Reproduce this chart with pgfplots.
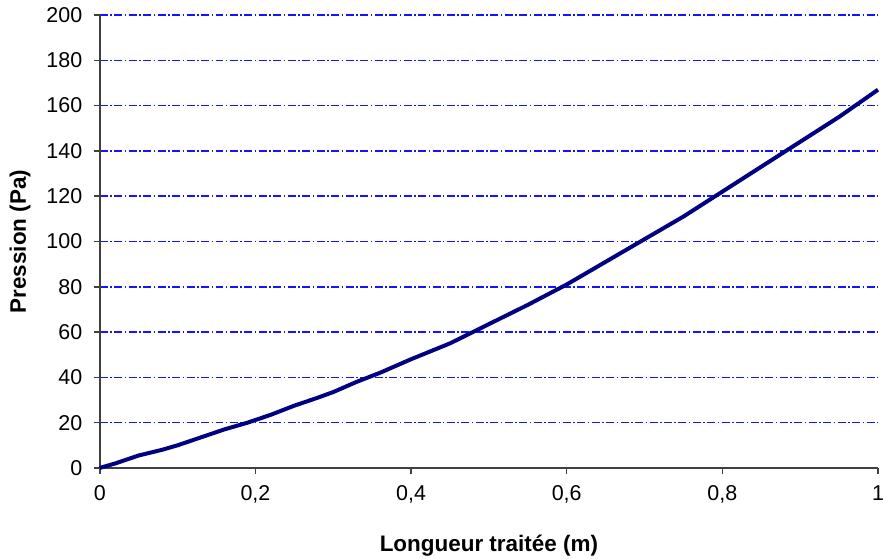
\documentclass[border=0pt]{standalone}
\usepackage{pgfplots}
\pgfplotsset{compat=1.18}
\usepackage{fontspec}
\setmainfont{Liberation Sans}

\definecolor{curve}{RGB}{0,0,128}
\definecolor{gridblue}{RGB}{20,20,255}

\begin{document}
\begin{tikzpicture}
\begin{axis}[
    scale only axis,
    width=780pt, height=454pt,
    xmin=0, xmax=1, ymin=0, ymax=200,
    axis lines=left,
    axis line style={-, line width=1.5pt, black!75},
    xtick={0,0.2,0.4,0.6,0.8,1},
    ytick={0,20,...,200},
    tick align=outside,
    major tick length=6pt,
    tick style={line width=1.5pt, black!75},
    ymajorgrids,
    major grid style={gridblue, line width=1.5pt, dash pattern=on 8pt off 2.5pt on 1.5pt off 2.5pt},
    /pgf/number format/use comma,
    /pgf/number format/assume math mode=true,
    ticklabel style={font=\fontsize{21.5}{23}\selectfont},
    yticklabel style={xshift=-8pt},
    xticklabel style={yshift=-8pt},
    xlabel={Longueur traitée (m)},
    ylabel={Pression (Pa)},
    label style={font=\fontsize{22.5}{24}\selectfont\bfseries},
    xlabel style={at={(axis description cs:0.5,0)}, anchor=center, yshift=-78pt},
    ylabel style={at={(axis description cs:0,0.5)}, anchor=center, xshift=0pt, yshift=80pt},
    clip=false,
]
\addplot[curve, line width=4pt, line join=round] coordinates {
    (0,0) (0.02,2) (0.05,5.5) (0.08,8) (0.1,10) (0.13,13.5) (0.16,17)
    (0.19,20) (0.22,23.5) (0.25,27.5) (0.28,31) (0.3,33.5) (0.33,38)
    (0.36,42) (0.4,48) (0.45,55) (0.5,63.5) (0.55,72) (0.6,81)
    (0.65,91) (0.7,101) (0.75,111) (0.8,122) (0.85,133) (0.9,144)
    (0.95,155) (1,167)
};
\end{axis}
\pgfresetboundingbox
\path[use as bounding box] ([xshift=-100pt,yshift=-91pt]current axis.south west) rectangle ([xshift=6pt,yshift=15pt]current axis.north east);
\end{tikzpicture}
\end{document}
